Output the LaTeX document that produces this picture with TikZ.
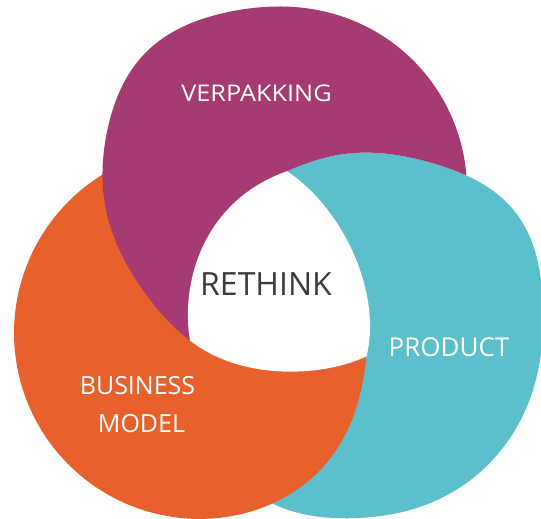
\documentclass[tikz,border=0pt]{standalone}
\usepackage{fontspec}
\setmainfont{Open Sans}
\definecolor{vpurple}{HTML}{A63A72}
\definecolor{vorange}{HTML}{E8602C}
\definecolor{vcyan}{HTML}{5CBFCC}
\definecolor{vtext}{HTML}{3A3A3A}
\tikzset{
  declare function={
    gb(\x)=exp(-(\x)*(\x));
    rp(\t)=183+12*gb((\t-135)/25)-10*gb((\t-215)/30);
    rc(\t)=184+17*gb((\t-38)/25)+5*gb((\t+115)/20)-5*gb((\t-115)/20)-3*gb((\t+90)/30);
    ro(\t)=186-18*gb((\t-355)/35);
  },
  txt/.style={text=white, inner sep=0pt, anchor=base},
}
\def\purplepath{(250,320) -- (330,260) -- (430,240) -- plot[domain=-5:238, samples=120, variable=\t] ({284+rp(\t)*cos(\t)}, {190-rp(\t)*sin(\t)}) -- cycle}
\def\cyanpath{(300,330) -- (310,440) -- plot[domain=-118:113, samples=120, variable=\t] ({357+rc(\t)*cos(\t)}, {336-rc(\t)*sin(\t)}) -- cycle}
\def\orangepath{plot[domain=118:352, samples=120, variable=\t] ({200+ro(\t)*cos(\t)}, {333-ro(\t)*sin(\t)}) -- (250,345) -- (190,339) -- (150,260) -- cycle}
\begin{document}
\begin{tikzpicture}[x=1pt, y=-1pt]
\useasboundingbox (0,0) rectangle (541,519);
\coordinate (T) at ({357+rc(113)*cos(113)}, {336-rc(113)*sin(113)});
\coordinate (BL) at ({284+rp(238)*cos(238)}, {190-rp(238)*sin(238)});
\coordinate (BR) at ({200+ro(352)*cos(352)}, {333-ro(352)*sin(352)});
\fill[vcyan] \cyanpath;
\fill[vorange] \orangepath;
\begin{scope}[even odd rule]
  \clip (-20,-20) rectangle (560,540) \cyanpath;
  \fill[vpurple] \purplepath;
\end{scope}
\fill[white] (T) .. controls (345,210) and (382,295) .. (BR)
  .. controls (320,378) and (240,380) .. (BL)
  .. controls (180,280) and (205,200) .. (T) -- cycle;
\node[txt, font=\fontsize{23}{23}\selectfont] (verp) at (256.5,101.7) {\scalebox{1.1}[1]{VERPAKKING}};
\node[txt, text=vtext, font=\fontsize{32}{32}\selectfont] (rethink) at (266,295) {RETHINK};
\node[txt, font=\fontsize{26}{26}\selectfont] (product) at (449,356) {PRODUCT};
\node[txt, font=\fontsize{25}{25}\selectfont] (business) at (137.5,394) {BUSINESS};
\node[txt, font=\fontsize{25}{25}\selectfont] (model) at (141.5,432) {MODEL};
\end{tikzpicture}
\end{document}
